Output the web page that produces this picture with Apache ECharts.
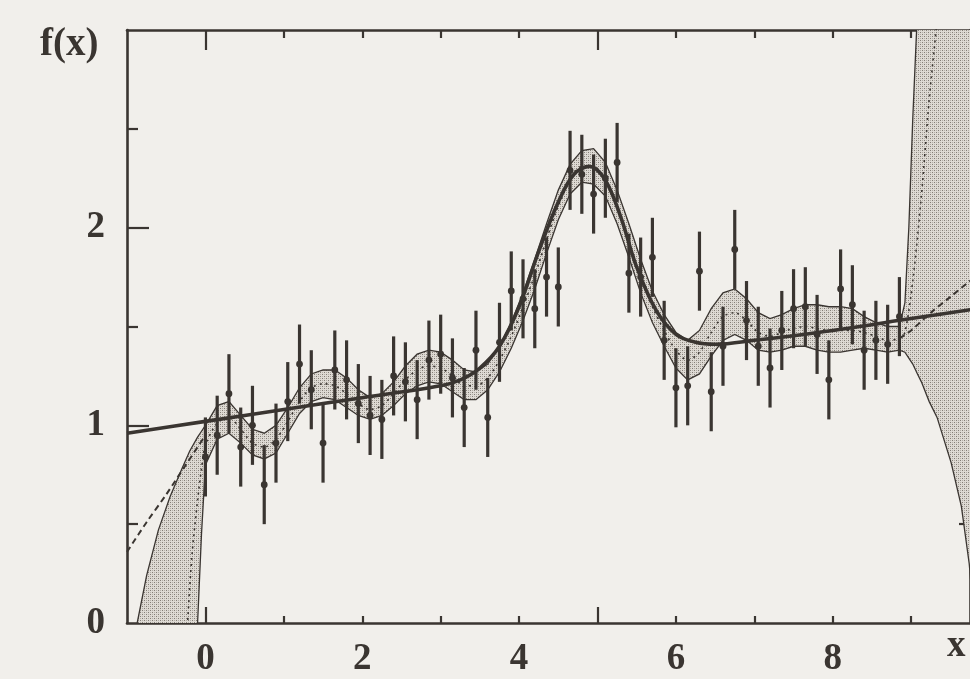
<!DOCTYPE html>
<html>
<head>
<meta charset="utf-8">
<script src="https://cdn.jsdelivr.net/npm/echarts@6/dist/echarts.min.js"></script>
<style>
html,body{margin:0;padding:0;background:#f1efeb;}
#chart{width:970px;height:679px;}
</style>
</head>
<body>
<div id="chart"></div>
<script>
// ---------- data ----------
const pointX = [0.00,0.15,0.30,0.45,0.60,0.75,0.90,1.05,1.20,1.35,1.50,1.65,1.80,1.95,2.10,2.25,2.40,2.55,2.70,2.85,
                3.00,3.15,3.30,3.45,3.60,3.75,3.90,4.05,4.20,4.35,4.50,4.65,4.80,4.95,5.10,5.25,5.40,5.55,5.70,5.85,
                6.00,6.15,6.30,6.45,6.60,6.75,6.90,7.05,7.20,7.35,7.50,7.65,7.80,7.95,8.10,8.25,8.40,8.55,8.70,8.85];
const pointY = [0.84,0.95,1.16,0.89,1.00,0.70,0.91,1.12,1.31,1.18,0.91,1.28,1.23,1.11,1.05,1.03,1.25,1.22,1.13,1.33,
                1.36,1.24,1.09,1.38,1.04,1.42,1.68,1.64,1.59,1.75,1.70,2.29,2.27,2.17,2.25,2.33,1.77,1.75,1.85,1.43,
                1.19,1.20,1.78,1.17,1.40,1.89,1.53,1.40,1.29,1.48,1.59,1.60,1.46,1.23,1.69,1.61,1.38,1.43,1.41,1.55];
const pointErr = [0.2,0.2,0.2,0.2,0.2,0.2,0.2,0.2,0.2,0.2,0.2,0.2,0.2,0.2,0.2,0.2,0.2,0.2,0.2,0.2,
                  0.2,0.2,0.2,0.2,0.2,0.2,0.2,0.2,0.2,0.2,0.2,0.2,0.2,0.2,0.2,0.2,0.2,0.2,0.2,0.2,
                  0.2,0.2,0.2,0.2,0.2,0.2,0.2,0.2,0.2,0.2,0.2,0.2,0.2,0.2,0.2,0.2,0.2,0.2,0.2,0.2];

// true function (thick solid line)
const trueX = [-1.0,0.0,1.0,2.0,3.0,3.25,3.5,3.75,4.0,4.25,4.5,4.7,4.9,5.1,5.3,5.5,5.75,6.0,6.25,6.5,7.0,8.0,9.0,10.0];
const trueY = [0.96,1.02,1.08,1.14,1.20,1.23,1.29,1.40,1.60,1.88,2.13,2.27,2.31,2.24,2.05,1.80,1.58,1.46,1.42,1.41,1.43,1.48,1.54,1.60];

// reconstruction band
const bandX = [-1.00,-0.87,-0.75,-0.60,-0.45,-0.30,-0.20,-0.10,-0.05,0.00,0.15,0.30,0.45,0.60,0.75,0.90,1.05,1.20,1.35,1.50,
               1.65,1.80,1.95,2.10,2.25,2.40,2.55,2.70,2.85,3.00,3.15,3.30,3.45,3.60,3.75,3.90,4.05,4.20,4.35,4.50,
               4.65,4.80,4.95,5.10,5.25,5.40,5.55,5.70,5.85,6.00,6.15,6.30,6.45,6.60,6.75,6.90,7.05,7.20,7.35,7.50,
               7.65,7.80,7.95,8.10,8.25,8.40,8.55,8.70,8.85,8.92,8.97,9.02,9.08,9.13,9.23,9.33,9.51,9.64,9.74,9.79,10.00];
const bandHigh = [-0.12,0.00,0.24,0.47,0.64,0.78,0.87,0.94,0.97,1.00,1.10,1.12,1.05,0.98,0.96,1.00,1.09,1.19,1.26,1.28,
                  1.28,1.24,1.18,1.14,1.16,1.22,1.30,1.36,1.38,1.37,1.33,1.28,1.27,1.31,1.40,1.52,1.67,1.84,2.02,2.19,
                  2.32,2.39,2.40,2.33,2.19,2.02,1.84,1.68,1.56,1.47,1.43,1.48,1.59,1.67,1.69,1.64,1.57,1.54,1.56,1.59,
                  1.61,1.61,1.60,1.60,1.59,1.55,1.52,1.50,1.50,1.62,2.00,2.55,3.10,3.60,4.50,5.50,7.00,8.00,9.00,10.0,12.0];
const bandLow = [-9.0,-7.0,-5.5,-4.0,-2.8,-1.7,-0.9,0.00,0.45,0.80,0.93,0.96,0.91,0.85,0.83,0.86,0.96,1.06,1.12,1.14,
                 1.13,1.09,1.05,1.03,1.05,1.10,1.16,1.20,1.22,1.21,1.17,1.13,1.13,1.18,1.27,1.39,1.53,1.69,1.87,2.04,
                 2.17,2.23,2.22,2.16,2.02,1.85,1.67,1.52,1.40,1.29,1.23,1.26,1.35,1.43,1.46,1.43,1.38,1.37,1.38,1.40,
                 1.40,1.38,1.37,1.37,1.38,1.39,1.38,1.37,1.38,1.37,1.34,1.31,1.26,1.22,1.12,1.04,0.81,0.59,0.30,0.08,-1.0];

// dotted central line of the band
const midX = [-0.30,-0.22,-0.17,-0.10,-0.05,0.00,0.15,0.30,0.45,0.60,0.75,0.90,1.05,1.20,1.35,1.50,1.65,1.80,1.95,2.10,
              2.25,2.40,2.55,2.70,2.85,3.00,3.15,3.30,3.45,3.60,3.75,3.90,4.05,4.20,4.35,4.50,4.65,4.80,4.95,5.10,
              5.25,5.40,5.55,5.70,5.85,6.00,6.15,6.30,6.45,6.60,6.75,6.90,7.05,7.20,7.35,7.50,7.65,7.80,7.95,8.10,
              8.25,8.40,8.55,8.70,8.85,8.92,9.02,9.13,9.23,9.33,9.45];
const midY = [-0.50,0.05,0.35,0.62,0.78,0.90,1.01,1.04,0.98,0.91,0.89,0.93,1.02,1.12,1.19,1.21,1.20,1.16,1.11,1.08,
              1.10,1.16,1.23,1.28,1.30,1.29,1.25,1.20,1.20,1.24,1.33,1.45,1.60,1.76,1.94,2.11,2.24,2.31,2.31,2.24,
              2.10,1.93,1.75,1.60,1.48,1.38,1.33,1.37,1.47,1.55,1.57,1.53,1.47,1.45,1.47,1.49,1.50,1.49,1.48,1.48,
              1.48,1.47,1.45,1.43,1.44,1.47,1.73,2.16,2.65,3.05,3.60];

// dashed extrapolation at both ends
const dashLeftX = [-1.0,-0.75,-0.5,-0.25,0.0];
const dashLeftY = [0.36,0.51,0.65,0.80,0.95];
const dashRightX = [8.85,9.0,9.25,9.5,9.75,10.0];
const dashRightY = [1.44,1.48,1.57,1.65,1.73,1.80];

// axis ticks / labels
const xLabelValues = [0,2,4,6,8];
const xMinorTicks = [1,2,3,4,6,7,8,9];
const xMajorTicks = [0,5];
const yLabelValues = [0,1,2];
const yMinorTicks = [0.5,1.5,2.5];
const yMajorTicks = [1,2];

// ---------- chart ----------
const INK = '#3a3531';
const FONT = 'Liberation Serif';
const X_MIN = -1, X_MAX = 9.75, Y_MIN = 0, Y_MAX = 3;

const pc = document.createElement('canvas');
pc.width = 4; pc.height = 4;
const pctx = pc.getContext('2d');
pctx.fillStyle = '#dedad4'; pctx.fillRect(0,0,4,4);
pctx.fillStyle = '#837d76'; pctx.fillRect(0,0,1,1); pctx.fillRect(2,2,1,1);
pctx.fillStyle = '#b3aea7'; pctx.fillRect(2,0,1,1); pctx.fillRect(0,2,1,1);
const pattern = {image: pc, repeat: 'repeat'};

const zip = (a, b) => a.map((v, i) => [v, b[i]]);

function xAx(position, ticks, len, showLine, labels) {
  return {
    type: 'value', position: position, min: X_MIN, max: X_MAX,
    axisLine: {show: showLine, onZero: false, lineStyle: {color: INK, width: 2.6}},
    axisTick: {show: true, inside: true, customValues: ticks, length: len, lineStyle: {color: INK, width: 2.2}},
    axisLabel: labels ? {show: true, customValues: labels, color: INK, fontFamily: FONT, fontWeight: 'bold', fontSize: 37, margin: 18} : {show: false},
    splitLine: {show: false}
  };
}
function yAx(position, ticks, len, showLine, labels) {
  return {
    type: 'value', position: position, min: Y_MIN, max: Y_MAX,
    axisLine: {show: showLine, onZero: false, lineStyle: {color: INK, width: 2.6}},
    axisTick: {show: true, inside: true, customValues: ticks, length: len, lineStyle: {color: INK, width: 2.2}},
    axisLabel: labels ? {show: true, customValues: labels, color: INK, fontFamily: FONT, fontWeight: 'bold', fontSize: 37, margin: 22} : {show: false},
    splitLine: {show: false}
  };
}

const chart = echarts.init(document.getElementById('chart'), null, {renderer: 'canvas'});
chart.setOption({
  backgroundColor: '#f1efeb',
  animation: false,
  grid: {left: 127, top: 30, right: 0, bottom: 56, containLabel: false},
  xAxis: [
    xAx('bottom', xMinorTicks, 7, true, xLabelValues),
    xAx('bottom', xMajorTicks, 16, false, null),
    xAx('top', xMinorTicks, 8, true, null),
    xAx('top', xMajorTicks, 20, false, null)
  ],
  yAxis: [
    yAx('left', yMinorTicks, 11, true, yLabelValues),
    yAx('left', yMajorTicks, 22, false, null),
    yAx('right', yMinorTicks, 11, true, null),
    yAx('right', yMajorTicks, 18, false, null)
  ],
  graphic: [
    {type: 'text', left: 40, top: 25, style: {text: 'f(x)', fill: INK, font: 'bold 39px "Liberation Serif"'}},
    {type: 'text', left: 947, top: 628, style: {text: 'x', fill: INK, font: 'bold 37px "Liberation Serif"'}}
  ],
  series: [
    {
      type: 'custom', name: 'band', clip: true, z: 1,
      data: [[0, 1]], encode: {x: 0, y: 1},
      renderItem: function (params, api) {
        const pts = [];
        for (let i = 0; i < bandX.length; i++) pts.push(api.coord([bandX[i], bandHigh[i]]));
        for (let i = bandX.length - 1; i >= 0; i--) pts.push(api.coord([bandX[i], bandLow[i]]));
        return {type: 'polygon', shape: {points: pts}, style: {fill: pattern, stroke: INK, lineWidth: 1.3}};
      }
    },
    {
      type: 'line', name: 'mid', data: zip(midX, midY), showSymbol: false, smooth: 0.3, z: 2,
      lineStyle: {color: INK, width: 1.6, type: [2, 4]}
    },
    {
      type: 'line', name: 'dashL', data: zip(dashLeftX, dashLeftY), showSymbol: false, smooth: 0.3, z: 2,
      lineStyle: {color: INK, width: 2, type: [6, 4]}
    },
    {
      type: 'line', name: 'dashR', data: zip(dashRightX, dashRightY), showSymbol: false, smooth: 0.3, z: 2,
      lineStyle: {color: INK, width: 2, type: [6, 4]}
    },
    {
      type: 'line', name: 'true', data: zip(trueX, trueY), showSymbol: false, smooth: 0.35, z: 3,
      lineStyle: {color: INK, width: 3.6}
    },
    {
      type: 'custom', name: 'points', z: 4, clip: true,
      data: pointX.map((x, i) => [x, pointY[i], pointErr[i]]),
      encode: {x: 0, y: 1},
      renderItem: function (params, api) {
        const x = api.value(0), y = api.value(1), e = api.value(2);
        const t = api.coord([x, y + e]), b = api.coord([x, y - e]), c = api.coord([x, y]);
        return {type: 'group', children: [
          {type: 'line', shape: {x1: t[0], y1: t[1], x2: b[0], y2: b[1]}, style: {stroke: INK, lineWidth: 3.2}},
          {type: 'circle', shape: {cx: c[0], cy: c[1], r: 3.4}, style: {fill: INK}}
        ]};
      }
    }
  ]
});
</script>
</body>
</html>
